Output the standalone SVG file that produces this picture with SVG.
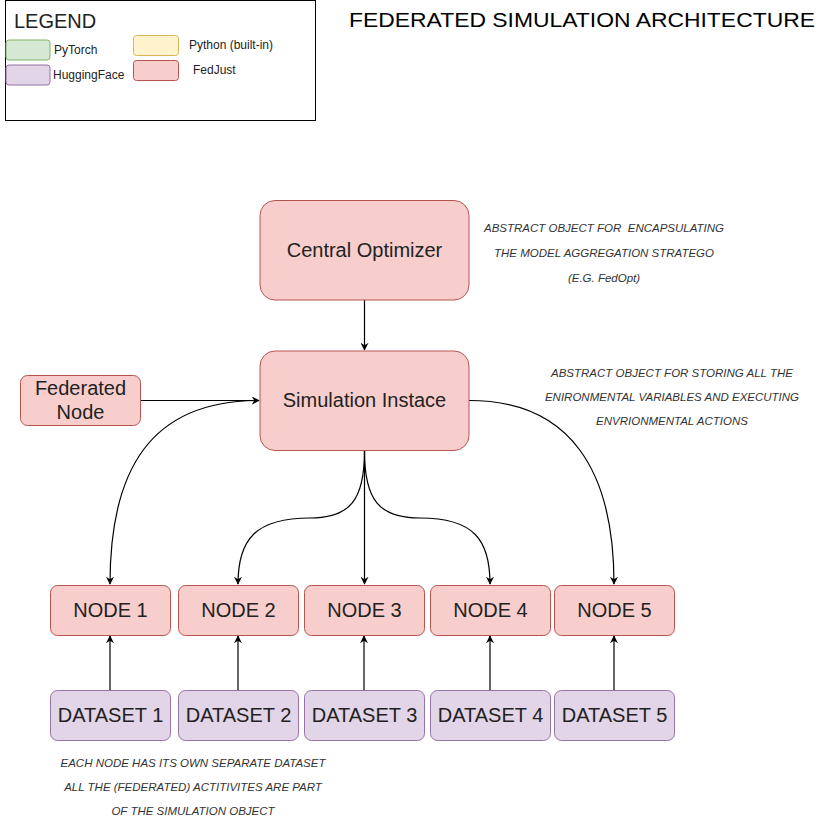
<svg xmlns="http://www.w3.org/2000/svg" width="827" height="831" viewBox="0 0 827 831">
<style>
.red{fill:#f8cecc;stroke:#b85450;stroke-width:1}
.pur{fill:#e1d5e7;stroke:#9673a6;stroke-width:1}
.grn{fill:#d5e8d4;stroke:#82b366;stroke-width:1}
.yel{fill:#fff2cc;stroke:#d6b656;stroke-width:1}
.lbl{font-family:"Liberation Sans",Arial,sans-serif;font-size:20px;fill:#222;text-anchor:middle;dominant-baseline:central}
.leg{font-family:"Liberation Sans",Arial,sans-serif;font-size:12px;fill:#222;dominant-baseline:central}
.note{font-family:"Liberation Sans",Arial,sans-serif;font-size:11.5px;font-style:italic;fill:#333;text-anchor:middle;dominant-baseline:central}
.edge{fill:none;stroke:#000;stroke-width:1.2;marker-end:url(#arr)}
</style>
<defs>
<marker id="arr" viewBox="0 0 10 10" refX="9" refY="5" markerWidth="8" markerHeight="8" markerUnits="userSpaceOnUse" orient="auto">
<path d="M0,0 L10,5 L0,10 L3,5 Z" fill="#000"/>
</marker>
</defs>
<rect width="827" height="831" fill="#fff"/>

<g id="legend">
<rect x="5.5" y="0.5" width="310" height="120" fill="#fff" stroke="#000" stroke-width="1"/>
<text x="14" y="21" class="leg" style="font-size:20px">LEGEND</text>
<rect class="grn" x="6" y="40" width="44" height="20" rx="3"/>
<text x="54" y="50" class="leg">PyTorch</text>
<rect class="pur" x="6" y="65" width="44" height="20" rx="3"/>
<text x="53" y="75" class="leg">HuggingFace</text>
<rect class="yel" x="133.5" y="35.5" width="45" height="20" rx="3"/>
<text x="189" y="45" class="leg">Python (built-in)</text>
<rect class="red" x="133.5" y="60.5" width="45" height="20" rx="3"/>
<text x="193" y="70" class="leg">FedJust</text>
</g>

<text x="582" y="19" class="lbl" style="fill:#000;font-size:21px" textLength="466" lengthAdjust="spacingAndGlyphs">FEDERATED SIMULATION ARCHITECTURE</text>

<g id="connectors">
<path class="edge" d="M364.5 300 L364.5 350"/>
<path class="edge" d="M140 400.5 L259 400.5"/>
<path class="edge" d="M259 400.5 C150 400.5 110 470 110 584"/>
<path class="edge" d="M364.5 451 C364.5 500 350 518 310 518 C255 518 238 540 238 584"/>
<path class="edge" d="M364.5 451 L364.5 584"/>
<path class="edge" d="M364.5 451 C364.5 500 379 518 420 518 C474 518 490 540 490 584"/>
<path class="edge" d="M469 400.5 C570 400.5 614 470 614 584"/>
<path class="edge" d="M110 690 L110 636"/>
<path class="edge" d="M238 690 L238 636"/>
<path class="edge" d="M364 690 L364 636"/>
<path class="edge" d="M490 690 L490 636"/>
<path class="edge" d="M614 690 L614 636"/>
</g>

<g id="central-optimizer">
<rect class="red" x="260" y="200.5" width="209" height="99.5" rx="15"/>
<text x="364.5" y="250" class="lbl">Central Optimizer</text>
</g>
<g id="simulation-instace">
<rect class="red" x="260" y="351" width="209" height="99.5" rx="15"/>
<text x="364.5" y="400" class="lbl">Simulation Instace</text>
</g>
<g id="federated-node">
<rect class="red" x="20.5" y="375.5" width="120" height="50" rx="7"/>
<text x="80.5" y="388" class="lbl">Federated</text>
<text x="80.5" y="412" class="lbl">Node</text>
</g>

<g id="node1"><rect class="red" x="50.5" y="585.5" width="120" height="50" rx="7"/><text x="110.5" y="610" class="lbl">NODE 1</text></g>
<g id="node2"><rect class="red" x="178.5" y="585.5" width="120" height="50" rx="7"/><text x="238.5" y="610" class="lbl">NODE 2</text></g>
<g id="node3"><rect class="red" x="304.5" y="585.5" width="120" height="50" rx="7"/><text x="364.5" y="610" class="lbl">NODE 3</text></g>
<g id="node4"><rect class="red" x="430.5" y="585.5" width="120" height="50" rx="7"/><text x="490.5" y="610" class="lbl">NODE 4</text></g>
<g id="node5"><rect class="red" x="554.5" y="585.5" width="120" height="50" rx="7"/><text x="614.5" y="610" class="lbl">NODE 5</text></g>

<g id="dataset1"><rect class="pur" x="50.5" y="690.5" width="120" height="50" rx="7"/><text x="110.5" y="715" class="lbl">DATASET 1</text></g>
<g id="dataset2"><rect class="pur" x="178.5" y="690.5" width="120" height="50" rx="7"/><text x="238.5" y="715" class="lbl">DATASET 2</text></g>
<g id="dataset3"><rect class="pur" x="304.5" y="690.5" width="120" height="50" rx="7"/><text x="364.5" y="715" class="lbl">DATASET 3</text></g>
<g id="dataset4"><rect class="pur" x="430.5" y="690.5" width="120" height="50" rx="7"/><text x="490.5" y="715" class="lbl">DATASET 4</text></g>
<g id="dataset5"><rect class="pur" x="554.5" y="690.5" width="120" height="50" rx="7"/><text x="614.5" y="715" class="lbl">DATASET 5</text></g>

<g id="note-optimizer">
<text x="604" y="228" class="note">ABSTRACT OBJECT FOR&#160; ENCAPSULATING</text>
<text x="604" y="253" class="note">THE MODEL AGGREGATION STRATEGO</text>
<text x="604" y="278" class="note">(E.G. FedOpt)</text>
</g>
<g id="note-simulation">
<text x="672" y="373" class="note">ABSTRACT OBJECT FOR STORING ALL THE</text>
<text x="672" y="397" class="note">ENIRONMENTAL VARIABLES AND EXECUTING</text>
<text x="672" y="421" class="note">ENVRIONMENTAL ACTIONS</text>
</g>
<g id="note-nodes">
<text x="193" y="763" class="note">EACH NODE HAS ITS OWN SEPARATE DATASET</text>
<text x="193" y="787" class="note">ALL THE (FEDERATED) ACTITIVITES ARE PART</text>
<text x="193" y="811" class="note">OF THE SIMULATION OBJECT</text>
</g>
</svg>
